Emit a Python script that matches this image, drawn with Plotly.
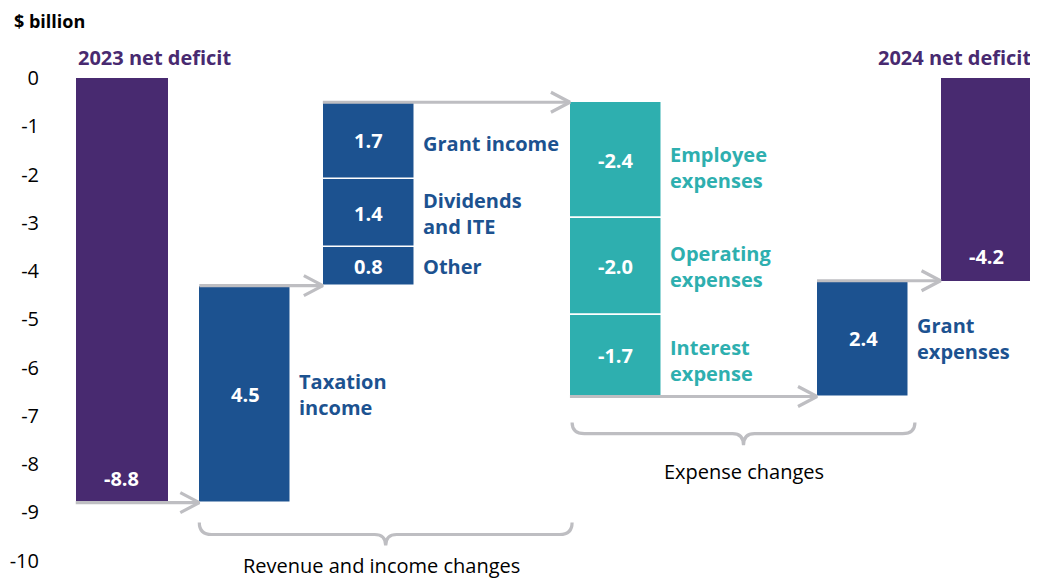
import plotly.graph_objects as go

# ---------------- data ----------------
categories = ["2023 net deficit", "Taxation income", "Other", "Dividends and ITE",
              "Grant income", "Employee expenses", "Operating expenses",
              "Interest expense", "Grant expenses", "2024 net deficit"]
label_lines = ["", "Taxation<br>income", "Other", "Dividends<br>and ITE", "Grant income",
               "Employee<br>expenses", "Operating<br>expenses", "Interest<br>expense",
               "Grant<br>expenses", ""]
slots = [0, 1, 2, 2, 2, 4, 4, 4, 6, 7]
kinds = ["total", "rev", "rev", "rev", "rev", "exp", "exp", "exp", "rev", "total"]
# drawn bar lengths as measured on the picture
bar_lengths = [-8.8, 4.5, 0.8, 1.4, 1.6, -2.4, -2.0, -1.7, 2.4, -4.2]
# values printed on the bars
shown_values = [-8.8, 4.5, 0.8, 1.4, 1.7, -2.4, -2.0, -1.7, 2.4, -4.2]
y_ticks = [0, -1, -2, -3, -4, -5, -6, -7, -8, -9, -10]
group_labels = ["Revenue and income changes", "Expense changes"]

# ---------------- styles ----------------
PURPLE = "#482A70"
BLUE = "#1C5290"
TEAL = "#2EAFAF"
GREY = "#BEBEC2"
FONT = "Open Sans"
kind_color = {"total": PURPLE, "rev": BLUE, "exp": TEAL}
W = 0.745
half = W / 2

# bases from running total
bases = []
level = 0.0
for k, v in zip(kinds, bar_lengths):
    if k == "total":
        bases.append(0.0)
        level = v
    else:
        bases.append(level)
        level = level + v

fig = go.Figure()
for i in range(len(categories)):
    fig.add_trace(go.Bar(
        x=[slots[i]], y=[bar_lengths[i]], base=[bases[i]], width=W,
        marker=dict(color=kind_color[kinds[i]],
                    line=dict(color="white", width=0 if kinds[i] == "total" else 1.5)),
        showlegend=False, hoverinfo="skip", name=categories[i]))

# arrows between groups
group_slots = []
group_level = {}
for s, b, v in zip(slots, bases, bar_lengths):
    if s not in group_slots:
        group_slots.append(s)
    group_level[s] = b + v
px_x = 123.5
px_y = 48.2
for a, b in zip(group_slots[:-1], group_slots[1:]):
    yv = group_level[a]
    x0 = a - half
    x1 = b - half
    dx = 19 / px_x
    dy = 10 / px_y
    fig.add_trace(go.Scatter(
        x=[x0, x1, None, x1 - dx, x1, x1 - dx], y=[yv, yv, None, yv + dy, yv, yv - dy],
        mode="lines", line=dict(color=GREY, width=3.2), showlegend=False,
        hoverinfo="skip", connectgaps=False))

annotations = []
# value labels
for i in range(len(categories)):
    if kinds[i] == "total":
        yc = bar_lengths[i] + 0.5
    else:
        yc = bases[i] + bar_lengths[i] / 2
    annotations.append(dict(x=slots[i], y=yc, text=f"<b>{shown_values[i]:.1f}</b>",
                            showarrow=False, font=dict(color="white", size=20, family=FONT)))
# category labels
yoff = {"Employee expenses": -0.15, "Interest expense": -0.1, "Grant income": -0.06}
for i in range(len(categories)):
    if not label_lines[i]:
        continue
    yc = bases[i] + bar_lengths[i] / 2 + yoff.get(categories[i], 0)
    annotations.append(dict(x=slots[i] + half, y=yc, xanchor="left", xshift=6,
                            text=f"<b>{label_lines[i]}</b>", showarrow=False, align="left",
                            font=dict(color=kind_color[kinds[i]], size=20, family=FONT)))
# totals titles
annotations.append(dict(x=slots[0] - half, y=0, xanchor="left", yanchor="bottom", yshift=5,
                        text=f"<b>{categories[0]}</b>", showarrow=False,
                        font=dict(color=PURPLE, size=20, family=FONT)))
annotations.append(dict(x=slots[-1] + half, y=0, xanchor="right", yanchor="bottom", yshift=5,
                        text=f"<b>{categories[-1]}</b>", showarrow=False,
                        font=dict(color=PURPLE, size=20, family=FONT)))
# unit
annotations.append(dict(x=0, y=1, xref="paper", yref="paper", xanchor="left", yanchor="bottom",
                        xshift=-48, yshift=19, text="<b>$ billion</b>", showarrow=False,
                        font=dict(color="black", size=18, family=FONT)))

# brackets
def brace(x0, x1, yt, yh, yn, rx=0.1):
    xc = (x0 + x1) / 2
    return (f"M {x0},{yt} Q {x0},{yh} {x0 + rx},{yh} L {xc - rx * 0.9},{yh} "
            f"Q {xc},{yh} {xc},{yn} Q {xc},{yh} {xc + rx * 0.9},{yh} "
            f"L {x1 - rx},{yh} Q {x1},{yh} {x1},{yt}")

shapes = [
    dict(type="path", path=brace(1 - half, 3.645, -9.21, -9.46, -9.69), xref="x", yref="y",
         line=dict(color=GREY, width=3.2)),
    dict(type="path", path=brace(3.645, 6.42, -7.14, -7.37, -7.61), xref="x", yref="y",
         line=dict(color=GREY, width=3.2)),
]
annotations.append(dict(x=(1 - half + 3.645) / 2 - 0.03, y=-10.1, text=group_labels[0],
                        showarrow=False, font=dict(color="black", size=20, family=FONT)))
annotations.append(dict(x=(3.645 + 6.42) / 2, y=-8.15, text=group_labels[1],
                        showarrow=False, font=dict(color="black", size=20, family=FONT)))

# the page adds an 8px body margin, so the figure is 8px smaller on each axis
fig.update_layout(
    width=1030, height=571,
    margin=dict(l=52, r=2, t=46, b=4),
    plot_bgcolor="white", paper_bgcolor="white",
    barmode="overlay", bargap=0,
    xaxis=dict(range=[-0.5, 7.4], showgrid=False, zeroline=False, showticklabels=False,
               showline=False, fixedrange=True),
    yaxis=dict(range=[-10.3, 0.5], tickvals=y_ticks, ticktext=[str(t) for t in y_ticks],
               showgrid=False, zeroline=False, showline=False,
               tickfont=dict(size=20, color="black", family=FONT), ticklabelstandoff=20),
    shapes=shapes, annotations=annotations,
    font=dict(family=FONT),
)
fig.write_html("out.html")
